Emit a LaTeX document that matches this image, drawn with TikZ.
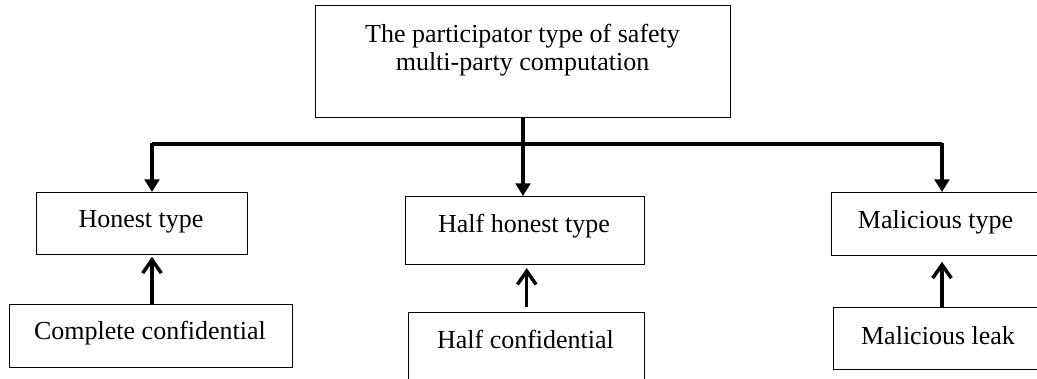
\documentclass[tikz,border=0pt]{standalone}
\usepackage{fontspec}
\setmainfont{Liberation Serif}
\usetikzlibrary{arrows.meta,calc}
\begin{document}
\begin{tikzpicture}[x=0.75pt,y=-0.75pt,
  box/.style 2 args={draw, line width=1.1pt, inner sep=0pt, anchor=north west,
     minimum width=#1*0.75pt, minimum height=#2*0.75pt},
  lbl/.style={font=\fontsize{19.5}{21}\selectfont, inner sep=0pt, align=center},
  bar/.style={line width=3.4pt},
  drop/.style={line width=2.3pt, -{Triangle[length=9.5pt,width=11pt]}},
  rise/.style={line width=2.3pt, -{Straight Barb[length=10pt,width=14pt,line width=2.6pt]}}]
\useasboundingbox (0,0) rectangle (1037,378);
\clip (0,0) rectangle (1037,378);
% boxes
\node[box={415}{112}] (top) at (315,5) {};
\node[box={211}{62}] (hon) at (36,192) {};
\node[box={239}{68}] (hh) at (405,196) {};
\node[box={230}{63}] (mal) at (831,192) {};
\node[box={283}{63}] (comp) at (9,304) {};
\node[box={236}{100}] (hc) at (408,312) {};
\node[box={230}{62}] (ml) at (833,307) {};
% texts
\node[lbl] (topT) at (522.5,50) {The participator type of safety\\multi-party computation};
\node[lbl] (honT) at (141,222) {Honest type};
\node[lbl] (hhT) at (524,226) {Half honest type};
\node[lbl] (malT) at (935.5,222) {Malicious type};
\node[lbl] (compT) at (150,333) {Complete confidential};
\node[lbl] (hcT) at (525.5,339) {Half confidential};
\node[lbl] (mlT) at (938,336) {Malicious leak};
% junctions
\coordinate (jL) at (152,144);
\coordinate (jM) at (523,144);
\coordinate (jR) at (942,144);
\draw[line width=2.3pt] (top.south -| jM) -- (jM);
\draw[bar] (jL) -- (jR);
\draw[drop] ([yshift=0.9pt]jL) -- (jL |- hon.north);
\draw[drop] (jM) -- (jM |- hh.north);
\draw[drop] ([yshift=0.9pt]jR) -- (jR |- mal.north);
% rising arrows
\draw[rise, shorten >=1pt] (jL |- comp.north) -- (jL |- hon.south);
\draw[rise, shorten <=4pt, shorten >=2pt] (hc.north) -- (hc.north |- hh.south);
\draw[rise, shorten >=4pt] (jR |- ml.north) -- (jR |- mal.south);
\end{tikzpicture}
\end{document}
